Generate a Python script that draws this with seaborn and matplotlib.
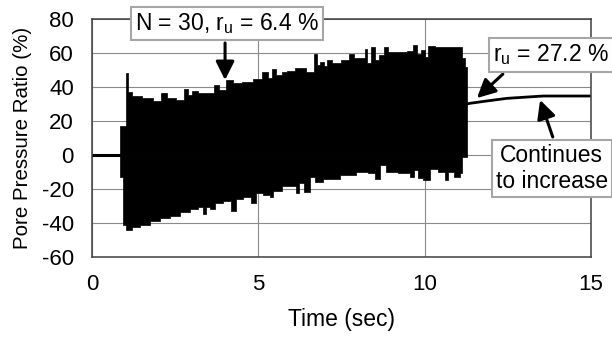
import matplotlib
matplotlib.use('Agg')
import matplotlib.pyplot as plt
import seaborn as sns
import numpy as np

# baseline before shaking and residual after shaking
pre_t = [0.0, 0.84]
pre_v = [0.0, 0.0]
post_t = [11.26, 11.36, 11.8, 12.46, 13.0, 13.57, 15.0]
post_v = [30.0, 30.4, 31.6, 33.3, 34.0, 34.7, 34.7]

# upper envelope of the cyclic record
upper_t = [0.84, 0.98, 1.04, 1.10, 1.29, 1.69, 1.99, 2.14, 2.34, 2.70, 2.83, 2.95,
           3.05, 3.30, 3.60, 3.75, 3.90, 4.15, 4.30, 4.70, 5.00, 5.25, 5.35, 5.45,
           5.60, 5.80, 5.95, 6.25, 6.60, 6.73, 6.80, 6.93, 7.00, 7.15, 7.30, 7.66,
           7.82, 7.96, 8.18, 8.24, 8.31, 8.44, 8.56, 8.71, 8.86, 8.96, 9.36, 9.56,
           9.74, 9.81, 9.96, 10.04, 10.16, 10.46, 10.86, 11.06, 11.16, 11.26]
upper_v = [17.0, 17.0, 48.0, 37.3, 34.7, 33.3, 32.0, 36.6, 33.3, 32.4, 38.6, 35.3,
           37.8, 36.3, 36.3, 41.2, 38.2, 44.1, 42.2, 43.1, 44.5, 49.0, 45.1, 50.4,
           47.1, 48.6, 49.6, 51.0, 49.0, 59.4, 52.9, 54.9, 52.4, 55.9, 54.3, 55.9,
           59.4, 56.9, 57.0, 62.2, 53.9, 63.3, 55.9, 58.8, 63.7, 60.8, 60.8, 61.4,
           64.7, 59.4, 61.8, 57.8, 64.1, 63.3, 63.7, 63.3, 56.9, 52.0]

# lower envelope
lower_t = [0.84, 0.92, 0.94, 1.09, 1.29, 1.59, 1.89, 2.19, 2.49, 2.80, 3.10, 3.30,
           3.38, 3.50, 3.60, 3.80, 4.10, 4.27, 4.40, 4.70, 4.88, 5.00, 5.30, 5.38,
           5.50, 5.95, 6.10, 6.17, 6.30, 6.45, 6.65, 6.75, 7.15, 7.75, 8.15, 8.45,
           8.56, 8.76, 8.91, 9.46, 9.64, 9.71, 9.86, 10.06, 10.26, 10.56, 10.66,
           10.76, 11.01, 11.11, 11.16, 11.26]
lower_v = [-12.8, -12.8, -41.2, -44.1, -42.2, -41.2, -38.8, -37.2, -35.9, -33.4, -32.0, -30.4,
           -34.7, -30.4, -32.0, -28.4, -26.9, -32.8, -26.1, -24.9, -28.1, -22.5, -23.5, -24.9,
           -21.0, -18.5, -18.0, -22.5, -16.6, -21.6, -12.8, -15.7, -14.3, -11.8, -9.8, -10.5,
           -14.3, -5.9, -9.8, -10.8, -12.8, -8.8, -13.7, -14.7, -8.4, -9.8, -14.7,
           -9.8, -12.8, -10.8, -1.0, -1.0]

x_ticks = [0, 5, 10, 15]
y_ticks = [-60, -40, -20, 0, 20, 40, 60, 80]

sns.set_style('white')
plt.rcParams['font.family'] = ['Liberation Sans', 'DejaVu Sans']
plt.rcParams['axes.unicode_minus'] = False
plt.rcParams['text.color'] = 'black'

fig = plt.figure(figsize=(6.12, 3.38), dpi=100)
ax = fig.add_axes([0.1503, 0.2396, 0.8154, 0.7042])

ax.fill_between(upper_t, 0, upper_v, step='mid', color='black', lw=0.5, zorder=2)
ax.fill_between(lower_t, lower_v, 0, step='mid', color='black', lw=0.5, zorder=2)
sns.lineplot(x=pre_t, y=pre_v, color='black', lw=2.2, ax=ax, zorder=2)
sns.lineplot(x=post_t, y=post_v, color='black', lw=2.0, ax=ax, zorder=2)

ax.set_xlim(0, 15)
ax.set_ylim(-60, 80)
ax.set_xticks(x_ticks)
ax.set_yticks(y_ticks)
ax.grid(True, color='#8a8a8a', lw=0.8)
ax.set_axisbelow(True)
ax.tick_params(axis='both', length=0, labelsize=16, colors='black')
ax.tick_params(axis='x', pad=12)
ax.tick_params(axis='y', pad=13)
for s in ax.spines.values():
    s.set_color('#404040')
    s.set_linewidth(1.1)

ax.set_xlabel('Time (sec)', fontsize=16.5, color='black')
ax.set_ylabel('Pore Pressure Ratio (%)', fontsize=14.8, color='black')
ax.xaxis.set_label_coords(0.5, -0.215)
ax.yaxis.set_label_coords(-0.12, 0.5)

box = dict(boxstyle='square,pad=0.18', fc='white', ec='#a6a6a6', lw=1.5)
arrow = dict(arrowstyle='-|>', color='black', lw=2.2, mutation_scale=28,
             shrinkA=0, shrinkB=0)

ax.text(4.05, 77.2, r'N = 30, r$_\mathregular{u}$ = 6.4 %', ha='center', va='center',
        fontsize=16.5, bbox=box, clip_on=False, zorder=6)
ax.annotate('', xy=(4.0, 44.1), xytext=(4.0, 65.9), arrowprops=arrow, zorder=5)

ax.text(13.80, 58.8, r'r$_\mathregular{u}$ = 27.2 %', ha='center', va='center',
        fontsize=16.5, bbox=box, clip_on=False, zorder=6)
ax.annotate('', xy=(11.57, 33.5), xytext=(12.35, 47.6), arrowprops=arrow, zorder=5)

ax.text(13.82, -7.9, 'Continues\nto increase', ha='center', va='center',
        fontsize=16.5, linespacing=1.15, bbox=box, clip_on=False, zorder=6)
ax.annotate('', xy=(13.47, 32.4), xytext=(13.85, 10.6), arrowprops=arrow, zorder=5)

fig.savefig('out.png', dpi=100)
